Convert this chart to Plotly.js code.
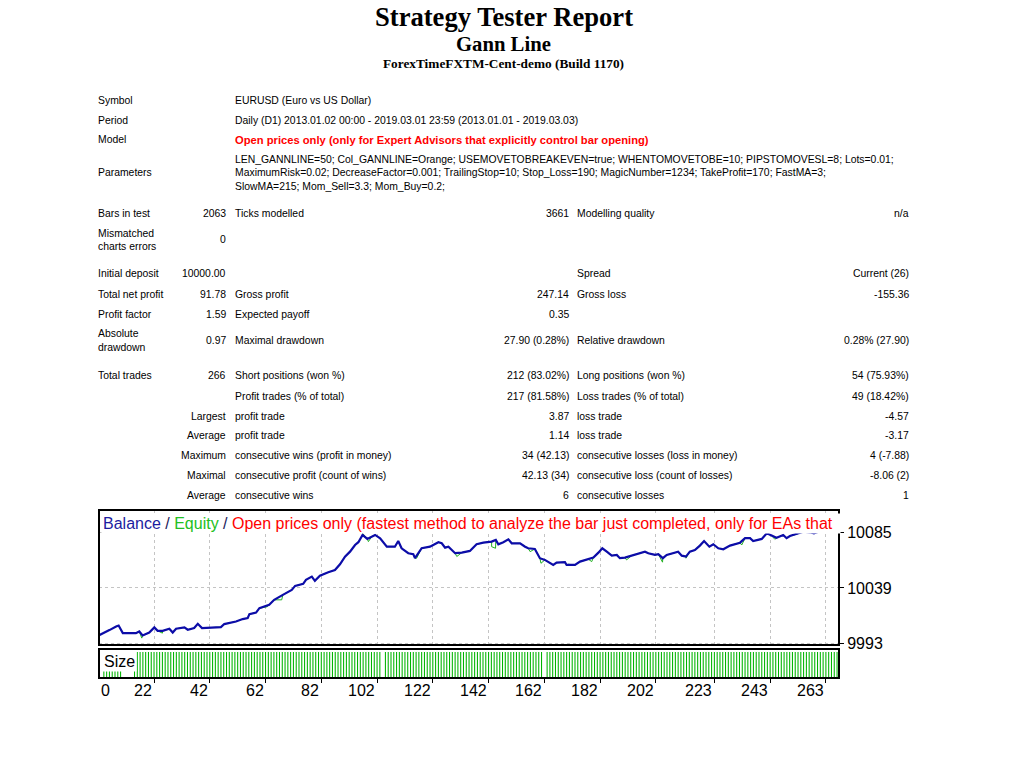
<!DOCTYPE html>
<html><head><meta charset="utf-8">
<script src="https://cdn.plot.ly/plotly-3.0.1.min.js"></script>
<style>html,body{margin:0;padding:0;background:#fff;}#chart{width:1024px;height:768px;}</style>
</head><body><div id="chart"></div>
<script>
// ---------- DATA ----------
const reportTitle = 'Strategy Tester Report';
const expertName = 'Gann Line';
const serverName = 'ForexTimeFXTM-Cent-demo (Build 1170)';

const headerLabels = ['Symbol', 'Period', 'Model'];
const headerValues = ['EURUSD (Euro vs US Dollar)',
  'Daily (D1) 2013.01.02 00:00 - 2019.03.01 23:59 (2013.01.01 - 2019.03.03)',
  'Open prices only (only for Expert Advisors that explicitly control bar opening)'];
const parametersLabel = 'Parameters';
const parameterLines = [
  'LEN_GANNLINE=50; Col_GANNLINE=Orange; USEMOVETOBREAKEVEN=true; WHENTOMOVETOBE=10; PIPSTOMOVESL=8; Lots=0.01;',
  'MaximumRisk=0.02; DecreaseFactor=0.001; TrailingStop=10; Stop_Loss=190; MagicNumber=1234; TakeProfit=170; FastMA=3;',
  'SlowMA=215; Mom_Sell=3.3; Mom_Buy=0.2;'];

const statCol1 = ['Bars in test', 'Mismatched\ncharts errors', 'Initial deposit', 'Total net profit', 'Profit factor', 'Absolute\ndrawdown', 'Total trades', '', '', '', '', '', ''];
const statCol2 = ['2063', '0', '10000.00', '91.78', '1.59', '0.97', '266', '', 'Largest', 'Average', 'Maximum', 'Maximal', 'Average'];
const statCol3 = ['Ticks modelled', '', '', 'Gross profit', 'Expected payoff', 'Maximal drawdown', 'Short positions (won %)', 'Profit trades (% of total)', 'profit trade', 'profit trade', 'consecutive wins (profit in money)', 'consecutive profit (count of wins)', 'consecutive wins'];
const statCol4 = ['3661', '', '', '247.14', '0.35', '27.90 (0.28%)', '212 (83.02%)', '217 (81.58%)', '3.87', '1.14', '34 (42.13)', '42.13 (34)', '6'];
const statCol5 = ['Modelling quality', '', 'Spread', 'Gross loss', '', 'Relative drawdown', 'Long positions (won %)', 'Loss trades (% of total)', 'loss trade', 'loss trade', 'consecutive losses (loss in money)', 'consecutive loss (count of losses)', 'consecutive losses'];
const statCol6 = ['n/a', '', 'Current (26)', '-155.36', '', '0.28% (27.90)', '54 (75.93%)', '49 (18.42%)', '-4.57', '-3.17', '4 (-7.88)', '-8.06 (2)', '1'];

const balanceTrade = [2.3,3.6,6.0,8.4,9.3,10.8,15.5,16.7,17.9,20.3,22.1,23.3,25.1,27.5,28.7,29.9,32.9,34.1,36.4,37.7,39.2,46.0,47.2,51.4,53.8,55.6,56.2,58.6,59.8,63.3,65.1,68.2,69.3,
  71.4,72.6,75.5,76.5,78.6,79.7,81.5,84.5,86.9,88.7,90.5,92.3,94.1,95.3,96.8,98.5,100.1,101.3,103.1,105.5,108.4,109.6,110.8,113.2,115.0,115.6,118.0,121.0,124.0,125.2,126.4,127.6,130.0,132.4,135.3,
  137.7,140.1,143.1,144.6,145.5,147.3,149.1,150.3,153.3,155.1,156.2,158.6,160.4,162.2,165.2,166.4,169.4,170.0,173.0,174.8,177.8,179.6,181.4,182.8,184.4,186.2,188.0,189.1,190.9,193.3,195.7,198.1,199.3,201.7,
  202.9,204.5,205.9,208.3,210.0,211.3,212.8,214.2,216.0,217.8,219.3,221.2,222.6,224.4,226.2,228.6,232.2,234.0,235.8,236.9,240.0,241.8,243.5,245.3,247.7,248.9,250.1,252.5,254.9,257.3,258.7,263.4,267.5];
const balanceValue = [10000.0,10001.7,10004.2,10007.2,10008.0,10001.7,10001.7,10003.1,9999.8,10002.2,10006.4,10003.6,10003.6,10005.3,10002.2,10005.3,10006.4,10004.5,10005.9,10009.4,10005.9,10006.7,10009.2,10011.3,10013.3,10014.1,10017.4,10018.7,10022.3,10025.1,10029.2,10033.3,10034.7,
  10037.4,10040.7,10042.4,10045.7,10048.4,10044.9,10049.2,10052.0,10053.9,10058.6,10064.9,10069.0,10074.5,10076.8,10082.8,10079.5,10081.4,10082.8,10080.1,10073.1,10073.1,10077.8,10071.8,10067.7,10066.9,10063.6,10071.8,10073.1,10076.8,10075.9,10072.3,10073.1,10067.7,10068.2,10069.6,
  10075.1,10076.4,10077.3,10078.7,10075.1,10076.8,10079.2,10075.9,10075.9,10073.1,10071.8,10071.2,10063.6,10062.2,10058.0,10059.9,10060.3,10058.0,10058.0,10060.8,10062.7,10064.1,10068.2,10071.8,10069.0,10065.7,10066.3,10063.6,10064.1,10065.7,10067.1,10069.0,10067.7,10066.3,
  10066.9,10063.6,10066.3,10067.7,10069.0,10065.7,10064.9,10069.0,10070.4,10074.0,10077.8,10073.1,10075.1,10071.8,10071.0,10074.0,10076.4,10080.1,10080.1,10077.8,10079.5,10084.2,10082.2,10080.5,10082.8,10080.1,10081.9,10083.4,10085.5,10085.0,10084.2,10088.0,10091.78];

const equityDipTrade = [17.6,25.0,62.6,67.8,96.8,98.9,116.2,130.6,143.1,144.5,156.9,160.8,170.6,179.0,191.5,204.4,212.8,232.8,244.7];
const equityDipValue = [9997.6,10001.7,10023.5,10029.2,10084.2,10077.3,10063.6,10065.0,10073.1,10071.8,10069.0,10059.4,10058.6,10060.8,10062.2,10060.3,10063.6,10074.5,10079.2];

const sizeRunFrom = [4, 15, 105, 163];
const sizeRunTo = [10, 103, 161, 267];
const sizeRunLot = [0.01, 0.03, 0.03, 0.03];

const xTickLabels = [0, 22, 42, 62, 82, 102, 122, 142, 162, 182, 202, 223, 243, 263];
const yTickValues = [9993, 10039, 10085];

// ---------- BUILD ----------
const W = 1024, H = 768;
const px = x => x / W, py = y => 1 - y / H;
const TF = 'Liberation Sans, Arial, sans-serif';
const TS = 10.4;
const xRange = [2.26, 267.7];

const eq = balanceTrade.map((t, i) => [t, balanceValue[i]]).concat(equityDipTrade.map((t, i) => [t, equityDipValue[i]]));
eq.sort((a, b) => a[0] - b[0]);

const sizeX = [], sizeY = [];
sizeRunFrom.forEach((f, r) => { for (let i = f; i <= sizeRunTo[r]; i++) { sizeX.push(i); sizeY.push(sizeRunLot[r]); } });

const ann = [];
function t(text, x, y, anchor, o) {
  o = o || {};
  ann.push({xref: 'paper', yref: 'paper', x: px(x), y: py(y), xanchor: anchor, yanchor: 'middle', text: text, showarrow: false,
    font: {family: o.family || TF, size: o.size || TS, color: o.color || '#000', weight: o.weight || 'normal'}});
}
t(reportTitle, 503.5, 17, 'center', {family: 'Liberation Serif, serif', size: 26.6, weight: 'bold'});
t(expertName, 503.5, 44, 'center', {family: 'Liberation Serif, serif', size: 20.7, weight: 'bold'});
t(serverName, 503.5, 63, 'center', {family: 'Liberation Serif, serif', size: 13.3, weight: 'bold'});

const C1 = 96, C2 = 228, C3 = 233, C4 = 571, C5 = 575, C6 = 911;
const headerY = [101, 120, 140];
headerLabels.forEach((l, i) => {
  t(l, C1, headerY[i], 'left');
  t(headerValues[i], C3, headerY[i], 'left', i === 2 ? {color: '#ff0000', weight: 'bold', size: 11.2} : {});
});
t(parametersLabel, C1, 173, 'left');
const paramY = [159, 172.5, 186];
parameterLines.forEach((l, i) => t(l, C3, paramY[i], 'left'));

const rowY = [213, 239.5, 274, 294, 314, 340.5, 376, 396, 416, 435, 455, 475, 495];
rowY.forEach((y, i) => {
  const parts = statCol1[i].split('\n');
  parts.forEach((p, k) => { if (p) t(p, C1, y + (k - (parts.length - 1) / 2) * 13, 'left'); });
  if (statCol2[i]) t(statCol2[i], C2, y, 'right');
  if (statCol3[i]) t(statCol3[i], C3, y, 'left');
  if (statCol4[i]) t(statCol4[i], C4, y, 'right');
  if (statCol5[i]) t(statCol5[i], C5, y, 'left');
  if (statCol6[i]) t(statCol6[i], C6, y, 'right');
});

ann.push({xref: 'paper', yref: 'paper', x: px(101), y: py(523), xanchor: 'left', yanchor: 'middle', showarrow: false,
  width: 736, align: 'left', bgcolor: '#ffffff',
  text: '<span style="color:#1c1ca0">Balance</span><span style="color:#1a1a5a"> / </span><span style="color:#22c022">Equity</span><span style="color:#1a1a5a"> / </span><span style="color:#ff0000">Open prices only (fastest method to analyze the bar just completed, only for EAs that</span>',
  font: {family: TF, size: 16, color: '#000'}});
ann.push({xref: 'paper', yref: 'paper', x: px(102), y: py(661), xanchor: 'left', yanchor: 'middle', showarrow: false,
  bgcolor: '#ffffff', text: 'Size', font: {family: TF, size: 16, color: '#000'}});
xTickLabels.forEach((v, i) => {
  ann.push({xref: 'x2', yref: 'paper', x: i === 0 ? xRange[0] : v, y: py(690), xanchor: i === 0 ? 'left' : 'right', yanchor: 'middle',
    showarrow: false, text: String(v), font: {family: TF, size: 16, color: '#000'}});
});

const traces = [
  {type: 'scatter', mode: 'lines', x: eq.map(p => p[0]), y: eq.map(p => p[1]), xaxis: 'x', yaxis: 'y',
   line: {color: '#20b020', width: 1}, hoverinfo: 'skip'},
  {type: 'scatter', mode: 'lines', x: balanceTrade, y: balanceValue, xaxis: 'x', yaxis: 'y',
   line: {color: '#0c0ca8', width: 2.2}, hoverinfo: 'skip'},
  {type: 'bar', x: sizeX, y: sizeY, xaxis: 'x2', yaxis: 'y2', width: 0.38,
   marker: {color: '#00b400', line: {width: 0}}, hoverinfo: 'skip'}
];

const layout = {
  width: W, height: H, margin: {l: 0, r: 0, t: 0, b: 0},
  paper_bgcolor: '#fff', plot_bgcolor: '#fff', showlegend: false,
  xaxis: {domain: [px(99), px(839)], anchor: 'y', range: xRange, tickvals: xTickLabels, showticklabels: false,
    ticks: '', showgrid: true, gridcolor: '#c4c4c4', griddash: '3px,3px', gridwidth: 1, zeroline: false, showline: false, matches: 'x2'},
  xaxis2: {domain: [px(99), px(839)], anchor: 'y2', range: xRange, tickvals: xTickLabels, showticklabels: false,
    ticks: 'outside', ticklen: 4, tickcolor: '#000', tickwidth: 1, showgrid: false, zeroline: false, showline: false},
  yaxis: {domain: [py(645), py(510)], anchor: 'x', side: 'right', range: [9991.9, 10103.4], tickvals: yTickValues,
    ticktext: yTickValues.map(String), ticks: 'outside', ticklen: 4, tickcolor: '#000', showgrid: true, gridcolor: '#c4c4c4', griddash: '3px,3px',
    zeroline: false, showline: false, tickfont: {family: TF, size: 16, color: '#000'}},
  yaxis2: {domain: [py(678), py(649)], anchor: 'x2', range: [0, 0.0335], showticklabels: false, ticks: '',
    showgrid: false, zeroline: false, showline: false},
  shapes: [
    {type: 'rect', xref: 'x domain', yref: 'y domain', x0: 0, x1: 1, y0: 0, y1: 1, line: {color: '#000', width: 2}},
    {type: 'rect', xref: 'x2 domain', yref: 'y2 domain', x0: 0, x1: 1, y0: 0, y1: 1, line: {color: '#000', width: 2}}
  ],
  annotations: ann
};
Plotly.newPlot('chart', traces, layout, {staticPlot: true, displayModeBar: false});
</script></body></html>
